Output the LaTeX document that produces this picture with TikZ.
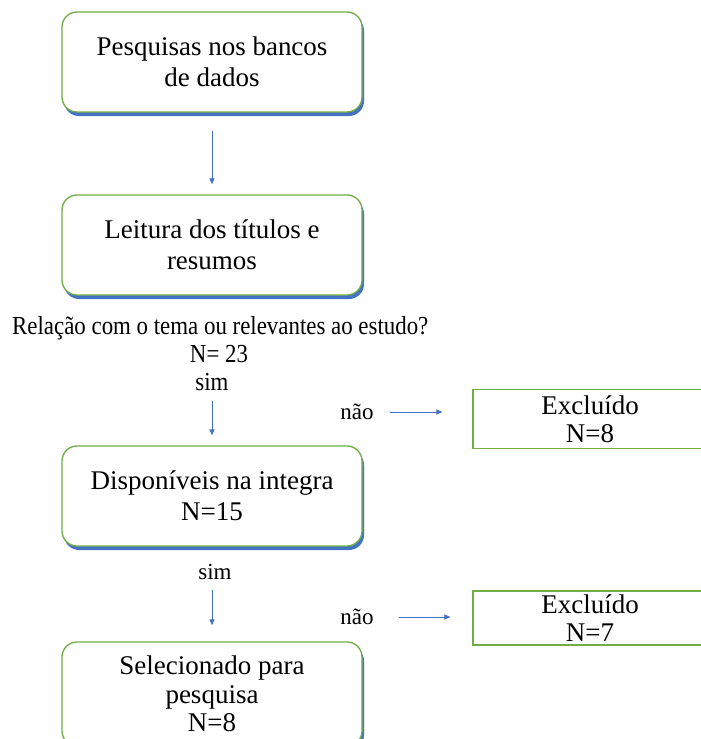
\documentclass[tikz,border=0pt]{standalone}
\usepackage{fontspec}
\setmainfont{Liberation Serif}
\newfontfamily\condfont[FakeStretch=0.88]{Liberation Serif}
\usetikzlibrary{arrows.meta,shadows}
\definecolor{grn}{HTML}{70AD47}
\definecolor{blu}{HTML}{4472C4}
\tikzset{
  rbox/.style={draw=grn, line width=1.3pt, fill=white, rounded corners=15pt,
    minimum width=300pt, minimum height=100pt, align=center,
    font=\fontsize{27}{31}\selectfont, inner sep=0pt,
    drop shadow={shadow xshift=2pt, shadow yshift=-4pt, fill=blu, opacity=1}},
  ebox/.style={draw=grn, line width=1.1pt, fill=white, minimum width=234pt,
    align=center, font=\fontsize{27}{28}\selectfont, inner sep=0pt},
  lbl/.style={inner sep=0pt, font=\fontsize{23}{26}\selectfont},
  clbl/.style={inner sep=0pt, font=\condfont\fontsize{26}{28}\selectfont},
  arr/.style={draw=blu, line width=1pt, -{Triangle[length=6pt,width=5pt]}}
}
\begin{document}
\begin{tikzpicture}[x=1pt,y=-1pt]
\clip (0,0) rectangle (701,739);
\fill[white] (0,0) rectangle (701,739);
\node[rbox] (b1) at (212,62) {Pesquisas nos bancos\\de dados};
\node[rbox] (b2) at (212,245) {Leitura dos títulos e\\resumos};
\node[clbl, anchor=west] (q) at (12,328) {Relação com o tema ou relevantes ao estudo?};
\node[clbl] (n23) at (219,354) {N= 23};
\node[clbl] (sim1) at (212,382) {sim};
\node[lbl] (nao1) at (357,412) {não};
\node[ebox, minimum height=59pt] (ex1) at (590,419) {Excluído\\N=8};
\node[rbox] (b3) at (212,496) {Disponíveis na integra\\N=15};
\node[lbl] (sim2) at (215,572) {sim};
\node[lbl] (nao2) at (357,617) {não};
\node[ebox, minimum height=54pt] (ex2) at (590,618) {Excluído\\N=7};
\node[rbox, minimum height=104pt, font=\fontsize{27}{28.5}\selectfont] (b4) at (212,694) {Selecionado para\\pesquisa\\N=8};
\draw[arr] ([yshift=-18pt]b1.south) -- ([yshift=10pt]b2.north);
\draw[arr] ([yshift=-10pt]b3.north |- sim1.south) -- ([yshift=10pt]b3.north);
\draw[arr] ([xshift=16pt]nao1.east) -- ([xshift=-30pt]ex1.west |- nao1.east);
\draw[arr] ([yshift=-10pt]b4.north |- sim2.south) -- ([yshift=16pt]b4.north);
\draw[arr] ([xshift=25pt]nao2.east) -- ([xshift=-22pt]ex2.west |- nao2.east);
\end{tikzpicture}
\end{document}
